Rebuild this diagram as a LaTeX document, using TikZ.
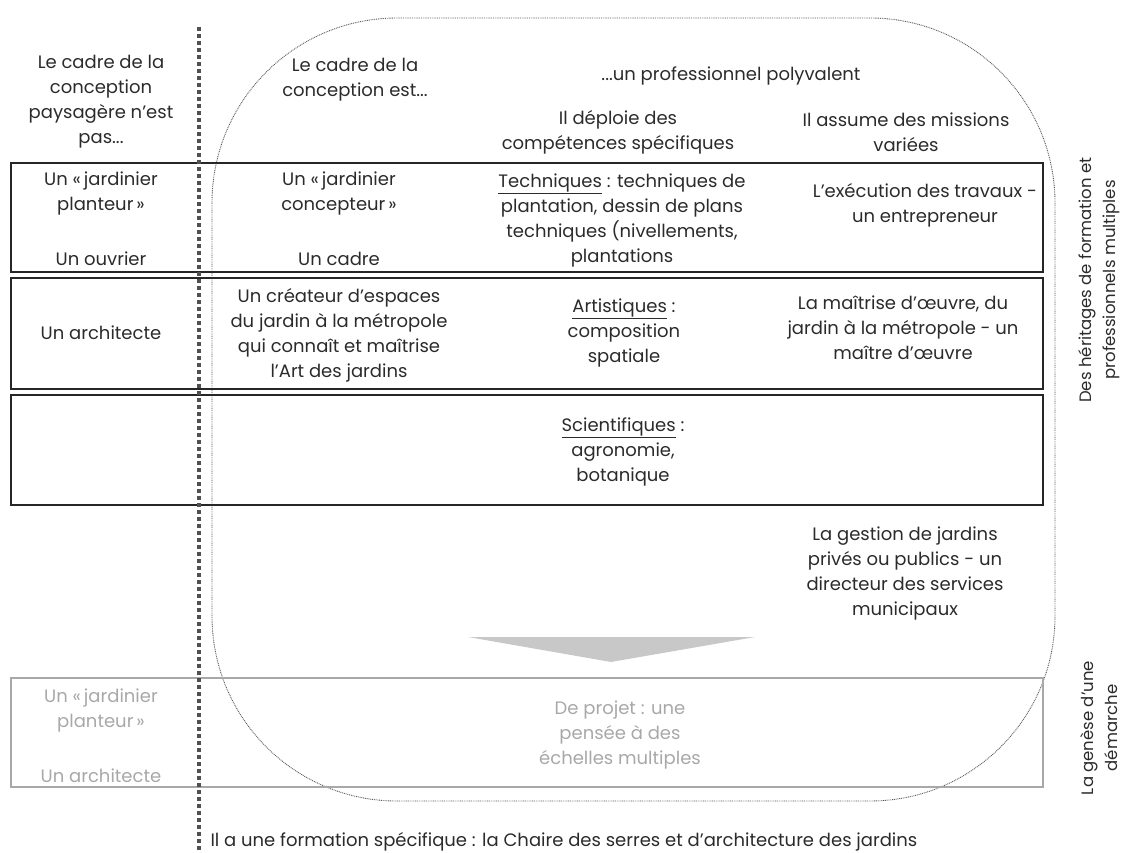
\documentclass[tikz,border=0pt]{standalone}
\usepackage{fontspec}
\setmainfont{Poppins}
\usepackage{xcolor}
\definecolor{ink}{HTML}{2B2B2B}
\definecolor{fade}{HTML}{A8A8A8}
\definecolor{sepline}{HTML}{505050}
\definecolor{arrowfill}{HTML}{C8C8C8}
\newcommand{\jard}[1]{Un «\,jardinier\\#1\,»}
\newcommand{\comp}[1]{\underline{#1}~:}

\begin{document}
\begin{tikzpicture}[x=1pt,y=-1pt,
   every node/.style={align=center,text=ink,font=\fontsize{18}{25}\selectfont},
   rowbox/.style={draw=black!85,line width=1.5pt},
   oldbox/.style={draw=fade,line width=1.3pt},
   sidelab/.style={rotate=90,font=\fontsize{16.5}{24}\selectfont}]
 \useasboundingbox (0,0) rectangle (1122,853);

 \draw[gray!70!black,line width=0.9pt,dash pattern=on 0.9pt off 0.9pt,rounded corners=185pt]
      (212,18) rectangle (1055,801);

 \draw[rowbox] (11,163) rectangle (1043,272);
 \draw[rowbox] (11,278) rectangle (1043,389);
 \draw[rowbox] (11,395) rectangle (1043,505);
 \draw[oldbox] (11,678) rectangle (1043,787);

 \fill[arrowfill] (468,637) -- (755,637) -- (611,662) -- cycle;

 \draw[sepline,line width=4pt,dash pattern=on 4pt off 3pt] (199,27) -- (199,853);

 \draw (101,102) node (hdNot)  {Le cadre de la\\conception\\paysagère n’est\\pas...};
 \draw (355,80)  node (hdEst)  {Le cadre de la\\conception est...};
 \draw (731,76)  node (hdPro)  {...un professionnel polyvalent};
 \draw (618,132) node (hdComp) {Il déploie des\\compétences spécifiques};
 \draw (906,132) node (hdMiss) {Il assume des missions\\variées};

 \draw (101,193) node (planteur)   {\jard{planteur}};
 \draw (101,259) node (ouvrier)    {Un ouvrier};
 \draw (339,193) node (concepteur) {\jard{concepteur}};
 \draw (339,259) node (cadre)      {Un cadre};
 \draw (622,220) node (techn)      {\comp{Techniques} techniques de\\plantation, dessin de plans\\techniques (nivellements,\\plantations};
 \draw (925,205) node (travaux)    {L’exécution des travaux -\\un entrepreneur};

 \draw (101,333) node (archi)    {Un architecte};
 \draw (339,335) node (createur) {Un créateur d’espaces\\du jardin à la métropole\\qui connaît et maîtrise\\l’Art des jardins};
 \draw (624,333) node (artist)   {\comp{Artistiques}\\composition\\spatiale};
 \draw (903,328) node (moe)      {La maîtrise d’œuvre, du\\jardin à la métropole - un\\maître d’œuvre};

 \draw (623,452) node (scient)  {\comp{Scientifiques}\\agronomie,\\botanique};
 \draw (905,573) node (gestion) {La gestion de jardins\\privés ou publics - un\\directeur des services\\municipaux};

 \draw (101,710) node[text=fade] (planteurB) {\jard{planteur}};
 \draw (101,776) node[text=fade] (archiB)    {Un architecte};
 \draw (620,735) node[text=fade] (projet)    {De projet : une\\pensée à des\\échelles multiples};

 \draw (207,842) node[anchor=west] (chaire) {Il a une formation spécifique : la Chaire des serres et d’architecture des jardins};

 \draw (1099,280) node[sidelab] (heritage) {Des héritages de formation et\\professionnels multiples};
 \draw (1099,728) node[sidelab] (genese)   {La genèse d’une\\démarche};
\end{tikzpicture}
\end{document}
